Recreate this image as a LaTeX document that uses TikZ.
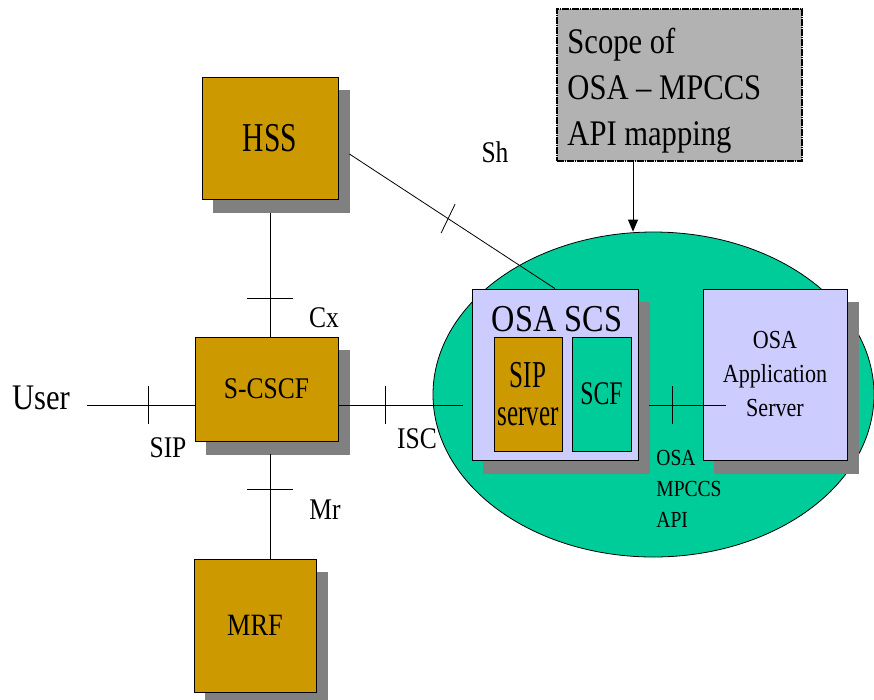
\documentclass[tikz,border=0pt]{standalone}
\usepackage{fontspec}
\setmainfont{Liberation Serif}[FakeStretch=0.85]
\newfontfamily\condfont{Liberation Serif}[FakeStretch=0.72]
\newfontfamily\xcondfont{Liberation Serif}[FakeStretch=0.66]
\usetikzlibrary{shapes.geometric,shadows,arrows.meta}

\definecolor{ImsGold}{RGB}{204,153,0}
\definecolor{OsaGreen}{RGB}{0,204,153}
\definecolor{OsaLilac}{RGB}{204,204,255}
\definecolor{ShadowGrey}{RGB}{128,128,128}
\definecolor{ScopeGrey}{RGB}{178,178,178}

\begin{document}
\begin{tikzpicture}[x=1pt, y=-1pt, line width=0.8pt,
    shadowbox/.style={draw, inner sep=0pt,
      drop shadow={shadow xshift=11pt, shadow yshift=-13pt, fill=ShadowGrey, draw=ShadowGrey, opacity=1}},
    imsbox/.style={shadowbox, fill=ImsGold},
    osabox/.style={shadowbox, fill=OsaLilac},
    ifname/.style={inner sep=0pt, font=\fontsize{30}{36}\selectfont}]
    \useasboundingbox (0,0) rectangle (874,699);

    % OSA domain
    \node[ellipse, draw, fill=OsaGreen, minimum width=441pt, minimum height=325pt, inner sep=0pt] (osa) at (653.5,394.5) {};

    % IMS core boxes
    \node[imsbox, minimum width=136pt, minimum height=122pt, font=\condfont\fontsize{41}{48}\selectfont] (hss) at (270,138) {HSS};
    \node[imsbox, minimum width=143pt, minimum height=104pt, font=\fontsize{30}{36}\selectfont] (scscf) at (266.5,389) {S-CSCF};
    \node[imsbox, minimum width=122pt, minimum height=133pt, font=\fontsize{31}{36}\selectfont] (mrf) at (255,625.5) {MRF};

    % scope note
    \node[draw, fill=ScopeGrey, line width=1.3pt, dash pattern=on 7pt off 1pt on 1pt off 1pt, minimum width=245pt, minimum height=152pt] (scope) at (679.5,85) {};
    \node[anchor=north west, inner sep=0pt, align=left, font=\fontsize{36}{46}\selectfont] (scopetxt) at (567,28) {Scope of\\OSA -- MPCCS\\API mapping};

    % OSA side boxes
    \node[osabox, minimum width=166pt, minimum height=171pt] (scs) at (555,374.5) {};
    \node[inner sep=0pt, font=\fontsize{38}{44}\selectfont] (scstxt) at (557,319) {OSA SCS};
    \node[draw, fill=ImsGold, minimum width=68pt, minimum height=114pt, inner sep=0pt, align=center, font=\xcondfont\fontsize{38}{38}\selectfont] (sipsrv) at (528,394) {SIP\\server};
    \node[draw, fill=OsaGreen, minimum width=59pt, minimum height=114pt, inner sep=0pt, font=\condfont\fontsize{33}{38}\selectfont] (scf) at (601.5,394) {SCF};
    \node[osabox, minimum width=144pt, minimum height=171pt, align=center, font=\fontsize{26}{34}\selectfont] (asrv) at (775,374.5) {OSA\\Application\\Server};

    % user side
    \node[inner sep=0pt, font=\fontsize{36}{40}\selectfont] (user) at (41,398) {User};
    \coordinate (bus) at (0,405);

    % interfaces
    \draw ([xshift=17pt]user.east |- bus) -- (scscf.west |- bus) coordinate[pos=.574] (siptick);
    \draw (scscf.east |- bus) -- ([xshift=-9pt]scs.west |- bus) coordinate[pos=.377] (isctick);
    \draw ([xshift=11pt]scs.east |- bus) -- ([xshift=23pt]asrv.west |- bus) coordinate[pos=.3] (apitick);
    \draw ([yshift=-14pt]hss.south) -- (hss.south |- scscf.north) coordinate[pos=.69] (cxtick);
    \draw ([yshift=-13pt]scscf.south -| hss.south) -- (hss.south |- mrf.north) coordinate[pos=.34] (mrtick);
    \draw ([xshift=11pt,yshift=-16pt]hss.east) -- (scs.north) coordinate[pos=.48] (shtick);

    % reference point marks
    \draw (siptick) ++(0,-19) -- ++(0,38);
    \draw (isctick) ++(0,-19) -- ++(0,38);
    \draw (apitick) ++(0,-19) -- ++(0,38);
    \draw (cxtick) ++(-23,0) -- ++(46,0);
    \draw (mrtick) ++(-23,0) -- ++(46,0);
    \draw (shtick) ++(7,-14.5) -- ++(-14,29);

    % interface names
    \node[ifname] (siplbl) at (168,448) {SIP};
    \node[ifname] (cxlbl) at (324,318) {Cx};
    \node[ifname] (isclbl) at (417,439) {ISC};
    \node[ifname] (mrlbl) at (325,510) {Mr};
    \node[ifname] (shlbl) at (495,152) {Sh};
    \node[anchor=north west, inner sep=0pt, align=left, font=\fontsize{23}{31}\selectfont] (apilbl) at (656,450) {OSA\\MPCCS\\API};

    % scope pointer
    \draw[-{Triangle[length=12pt,width=10pt]}] ([xshift=-46.5pt]scope.south) -- ([xshift=-46.5pt]scope.south |- osa.north);
\end{tikzpicture}
\end{document}
